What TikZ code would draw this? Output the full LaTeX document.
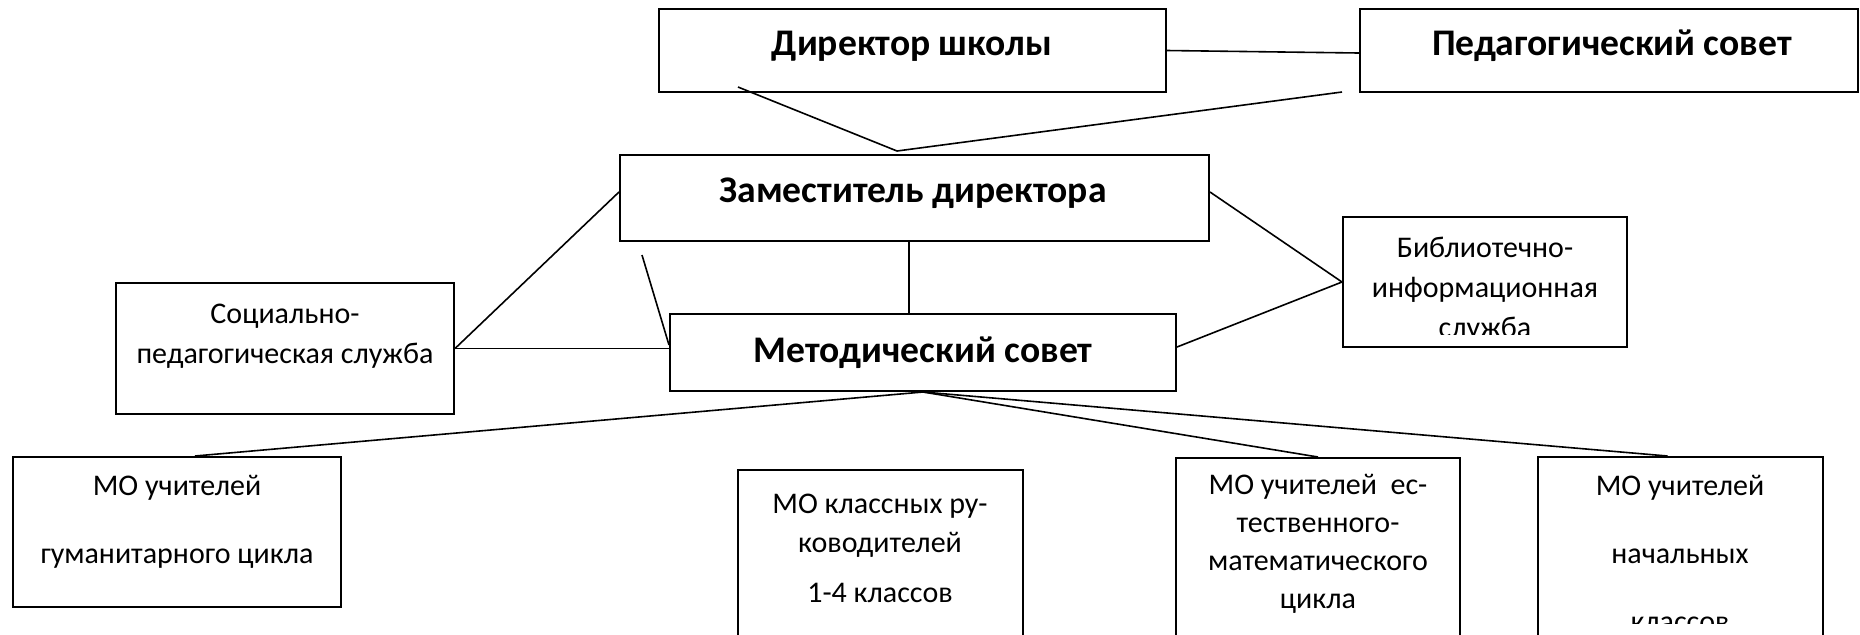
\documentclass[tikz,border=0pt]{standalone}
\usepackage{fontspec}
\setmainfont{Carlito}
\usetikzlibrary{calc}

\tikzset{
  blk/.style={draw, line width=1pt, inner sep=0pt},
  bigtxt/.style={anchor=base, inner sep=0pt, font=\fontsize{18.8}{22}\selectfont\bfseries},
  smalltxt/.style={anchor=base, inner sep=0pt, align=center, font=\fontsize{15}{#1}\selectfont},
  smalltxt/.default=20pt,
  link/.style={line width=0.8pt}
}

\begin{document}
\begin{tikzpicture}[x=0.5pt,y=-0.5pt]
\useasboundingbox (0,0) rectangle (1860,634);
\clip (0,0) rectangle (1860,634);

% text nodes sit on the baseline of their last line
\node[blk, minimum width=253.5pt, minimum height=41.5pt] at (912.5,50.5) (dir) {};
\node[bigtxt] at (912,55) (dirt) {Директор школы};

\node[blk, minimum width=249pt, minimum height=41.5pt] at (1609,50.5) (ped) {};
\node[bigtxt] at (1612,55) (pedt) {Педагогический совет};

\node[blk, minimum width=294.5pt, minimum height=43pt] at (914.5,198) (zam) {};
\node[bigtxt] at (913,202) (zamt) {Заместитель директора};

\node[blk, minimum width=253pt, minimum height=38.5pt] at (923,352.5) (met) {};
\node[bigtxt] at (923,362) (mett) {Методический совет};

\node[blk, minimum width=169pt, minimum height=65.5pt] at (285,348.5) (soc) {};
\node[smalltxt] at (285,363) (soct) {Социально-\\педагогическая служба};

\node[blk, minimum width=142pt, minimum height=65pt] at (1485,282) (bib) {};
\begin{scope}
\clip (1343,217) rectangle (1627,334);
\node[smalltxt] at (1485,337) (bibt) {Библиотечно-\\информационная\\служба};
\end{scope}

%%%%%%%%%%%%%%%%%%%%%%%%%%%%%%%%%%%%%%
\node[blk, minimum width=164pt, minimum height=75pt] at (177,532) (mo1) {};
\node[smalltxt=34pt] at (177,563) (mo1t) {МО учителей\\гуманитарного цикла};

\node[blk, minimum width=142.5pt, minimum height=115pt] at (880.5,585) (mo2) {};
\node[smalltxt=19.5pt] at (880,602) (mo2t) {МО классных ру-\\ководителей\\[5.5pt]1-4 классов};

\node[blk, minimum width=142pt, minimum height=121pt] at (1318,579) (mo3) {};
\node[smalltxt=18.85pt] at (1318,608) (mo3t) {МО учителей\ \ ес-\\тественного-\\математического\\цикла};

\node[blk, minimum width=142.5pt, minimum height=121.5pt] at (1680.5,578.5) (mo4) {};
\begin{scope}
\clip (1538,457) rectangle (1823,623);
\node[smalltxt=34pt] at (1680,631) (mo4t) {МО учителей\\начальных\\классов};
\end{scope}

%%%%%%%%%%%%%%%%%%%%%%%%%%%%%%%%%%%%%%
\coordinate (dirfoot) at (738,87);
\coordinate (pedfoot) at (1342,92);
\coordinate (zamtop) at (897,151);
\coordinate (zamside) at (642,255);

\draw[link] (dir.east) -- ($(ped.west)+(0,2.5)$);
\draw[link] (dirfoot) -- (zamtop);
\draw[link] (pedfoot) -- (zamtop);
\draw[link] ($(zam.west)+(0,-6)$) -- (soc.east);
\draw[link] (zamside) -- ($(met.west)+(0,-7.5)$);
\draw[link] (soc.east) -- (soc.east -| met.west);
\draw[link] ($(zam.south)+(-5.5,0)$) -- ($(zam.south |- met.north)+(-5.5,0)$);
\draw[link] ($(zam.east)+(0,-6)$) -- (bib.west);
\draw[link] (bib.west) -- ($(met.east)+(0,-5.5)$);

\draw[link] (met.south) -- ($(mo1.north)+(18,0)$);
\draw[link] (met.south) -- (mo3.north);
\draw[link] (met.south) -- ($(mo4.north)+(-13,0)$);

\end{tikzpicture}
\end{document}
